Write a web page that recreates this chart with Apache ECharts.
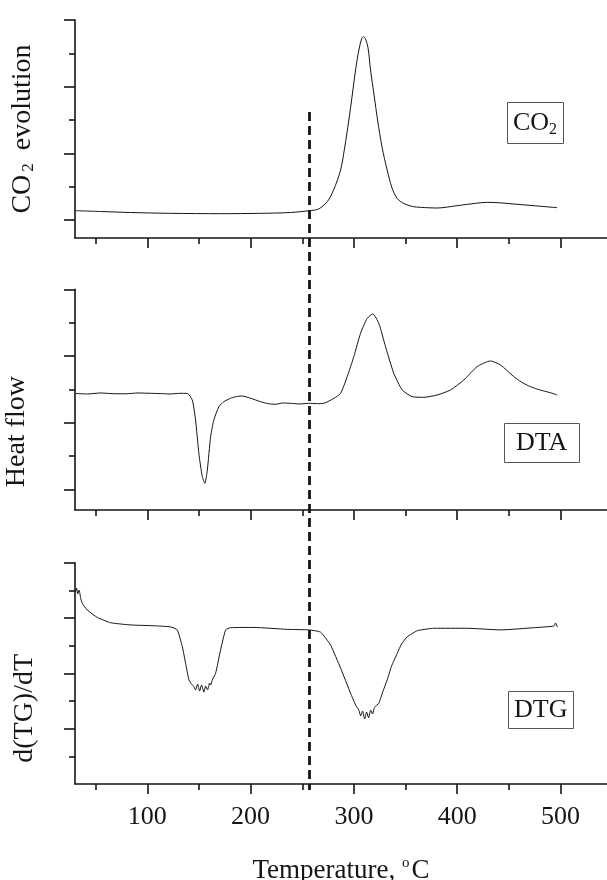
<!DOCTYPE html>
<html>
<head>
<meta charset="utf-8">
<script src="https://cdn.jsdelivr.net/npm/echarts@6/dist/echarts.min.js"></script>
<style>
html,body{margin:0;padding:0;background:#fff;}
#chart{width:607px;height:880px;}
</style>
</head>
<body>
<div id="chart"></div>
<script>
// ---- Data (temperature in °C, signals in tick units) ----
const co2T = [30.6,54.8,83.8,122.5,170.9,209.6,238.7,257.1,265.8,274.2,280.3,287.1,291.0,295.1,298.4,301.6,304.8,307.4,309.0,311.3,313.7,316.1,319.5,322.9,327.2,332.2,336.9,341.9,348.3,356.7,364.5,380.6,400.0,417.7,429.0,441.9,454.8,475.8,496.8];
const co2V = [0.28,0.255,0.225,0.20,0.19,0.20,0.225,0.28,0.33,0.55,0.90,1.50,2.16,3.00,3.75,4.50,5.10,5.43,5.50,5.43,5.16,4.50,3.75,3.00,2.19,1.50,0.96,0.645,0.495,0.405,0.38,0.36,0.43,0.50,0.53,0.515,0.48,0.425,0.37];

const dtaT = [30.6,42,54.8,66,79.0,91,103.2,115,122.5,131,138.7,143.5,146.7,149.9,153.2,155.7,158.1,161.3,164.4,169.3,174.1,180.6,186,191.9,200.0,209.6,217,224.2,231,238.7,247,256.4,264,270.9,280.6,287.1,293.5,299.9,306.4,312.9,318.3,324.1,330.6,338.6,346.8,356.4,367.7,380.6,393.5,406.4,419.3,432.2,441.9,454.8,462,469.3,476,483.8,490,496.8];
const dtaV = [2.875,2.86,2.89,2.87,2.865,2.89,2.88,2.87,2.86,2.88,2.875,2.68,2.08,1.08,0.38,0.18,0.58,1.58,2.08,2.48,2.63,2.73,2.78,2.80,2.73,2.63,2.57,2.55,2.59,2.58,2.56,2.58,2.57,2.58,2.73,2.88,3.38,3.98,4.68,5.13,5.26,4.98,4.28,3.48,2.98,2.78,2.76,2.83,2.98,3.28,3.68,3.85,3.73,3.38,3.22,3.10,3.02,2.95,2.90,2.83];

const dtgT = [30.6,31.6,32.6,34.0,35.5,37.1,41.9,51.6,64.5,83.8,106.4,122.5,129.0,133.9,137.1,140.3,142.9,145.1,146.7,148.7,150.6,152.5,154.8,156.4,158.4,160.3,161.3,163.2,166.1,170.9,175.8,180.6,203.2,235.5,256.4,267.7,277.4,287.1,296.8,301.6,304.8,306.5,308.4,310.4,312.3,314.2,316.2,318.1,320.0,324.2,327.8,332.2,336.4,341.9,346.1,351.6,361.3,377.4,409.7,441.9,474.1,493.5,495.1,497.1];
const dtgV = [6.95,7.08,6.87,7.01,6.72,6.53,6.29,6.02,5.83,5.75,5.72,5.68,5.57,4.96,4.36,3.76,3.61,3.52,3.40,3.61,3.36,3.58,3.32,3.54,3.40,3.65,3.58,3.79,4.00,4.84,5.57,5.65,5.66,5.59,5.57,5.49,5.02,4.19,3.28,2.86,2.67,2.46,2.64,2.35,2.60,2.39,2.67,2.53,2.78,2.92,3.32,3.76,4.26,4.72,5.06,5.32,5.54,5.63,5.63,5.57,5.65,5.71,5.82,5.67];

const xMajorTicks = [100,200,300,400,500];
const xMinorTicks = [50,150,250,350,450];
const dashedT = 257;
const panelNames = ['CO{sub|2} evolution','Heat flow','d(TG)/dT'];
const boxLabels = ['CO{sub|2}','DTA','DTG'];
const xTitle = 'Temperature, {sup|o}C';

// ---- Build chart ----
const FONT = 'Liberation Serif';
const INK = '#151515';
const zip = (a,b)=>a.map((v,i)=>[v,b[i]]);

const grids = [
  {left:75,right:0,top:20,height:218},
  {left:75,right:0,top:289.3,height:220.7},
  {left:75,right:0,top:562.7,height:221.3},
  {left:75,right:0,top:112,height:678}
].map(g=>Object.assign(g,{containLabel:false,outerBoundsMode:'none'}));

const yRanges = [[-0.54,6],[-0.62,6],[0,8]];
const yLong = [[0,2,4,6],[0,2,4,6],[2,4,6,8]];
const yShort = [[1,3,5],[1,3,5],[1,3,5,7]];
const namePad = [[0,0,0,0],[0,64,0,0],[0,70,0,0]];
const nameGaps = [38,44,36];

const xAxes = [], yAxes = [];
for (let g=0; g<3; g++) {
  const isBottom = g===2;
  xAxes.push({
    type:'value', gridIndex:g, min:30, max:545, position:'bottom',
    axisLine:{show:true,onZero:false,lineStyle:{color:INK,width:1.6}},
    axisTick:{show:true,inside:false,length:10,customValues:xMajorTicks,lineStyle:{color:INK,width:1.6}},
    axisLabel:isBottom?{show:true,customValues:xMajorTicks,margin:20,fontFamily:FONT,fontSize:26,color:INK}:{show:false},
    splitLine:{show:false},
    name:isBottom?xTitle:'',
    nameLocation:'middle', nameGap:72,
    nameTextStyle:{fontFamily:FONT,fontSize:27,color:INK,rich:{sup:{fontFamily:FONT,fontSize:15,color:INK,verticalAlign:'top',padding:[0,2,14,0]}}}
  });
  xAxes.push({
    type:'value', gridIndex:g, min:30, max:545, position:'bottom',
    axisLine:{show:false,onZero:false},
    axisTick:{show:true,inside:false,length:6,customValues:xMinorTicks,lineStyle:{color:INK,width:1.6}},
    axisLabel:{show:false}, splitLine:{show:false}
  });
  yAxes.push({
    type:'value', gridIndex:g, min:yRanges[g][0], max:yRanges[g][1], position:'left',
    axisLine:{show:true,onZero:false,lineStyle:{color:INK,width:1.6}},
    axisTick:{show:true,inside:false,length:11,customValues:yLong[g],lineStyle:{color:INK,width:1.6}},
    axisLabel:{show:false}, splitLine:{show:false},
    name:panelNames[g], nameLocation:'middle', nameGap:nameGaps[g], nameRotate:90,
    nameTextStyle:{fontFamily:FONT,fontSize:28,color:INK,padding:namePad[g],
      rich:{sub:{fontFamily:FONT,fontSize:17,color:INK,verticalAlign:'bottom',padding:[12,6,0,3]}}}
  });
  yAxes.push({
    type:'value', gridIndex:g, min:yRanges[g][0], max:yRanges[g][1], position:'left',
    axisLine:{show:false,onZero:false},
    axisTick:{show:true,inside:false,length:6,customValues:yShort[g],lineStyle:{color:INK,width:1.6}},
    axisLabel:{show:false}, splitLine:{show:false}
  });
}
// overlay axis for the dashed marker spanning all panels
xAxes.push({type:'value',gridIndex:3,min:30,max:545,show:false});
yAxes.push({type:'value',gridIndex:3,min:0,max:1,show:false});

const curveStyle = {color:INK,width:1};
const series = [
  {type:'line',xAxisIndex:0,yAxisIndex:0,data:zip(co2T,co2V),showSymbol:false,smooth:0.3,lineStyle:curveStyle},
  {type:'line',xAxisIndex:2,yAxisIndex:2,data:zip(dtaT,dtaV),showSymbol:false,smooth:0.2,lineStyle:curveStyle},
  {type:'line',xAxisIndex:4,yAxisIndex:4,data:zip(dtgT,dtgV),showSymbol:false,smooth:0.15,lineStyle:curveStyle},
  {type:'line',xAxisIndex:6,yAxisIndex:6,data:[[dashedT,1],[dashedT,0]],showSymbol:false,clip:false,
   lineStyle:{color:INK,width:2.8,type:[9,5]}}
];

const boxBase = {fontFamily:FONT,fontSize:26,color:INK,fontWeight:'normal',lineHeight:30,
  rich:{sub:{fontFamily:FONT,fontSize:16,color:INK,verticalAlign:'bottom',padding:[14,0,0,0],lineHeight:30}}};
const titles = [
  {text:boxLabels[0],left:507,top:102,padding:[6,7,6,6]},
  {text:boxLabels[1],left:504,top:423,padding:[5,12,5,12]},
  {text:boxLabels[2],left:508,top:691,padding:[4,6,4,6]}
].map(t=>Object.assign(t,{borderColor:'#555',borderWidth:1,textStyle:boxBase}));

const chart = echarts.init(document.getElementById('chart'),null,{renderer:'canvas'});
chart.setOption({
  animation:false,
  backgroundColor:'#fff',
  title:titles,
  grid:grids,
  xAxis:xAxes,
  yAxis:yAxes,
  series:series
});
</script>
</body>
</html>
